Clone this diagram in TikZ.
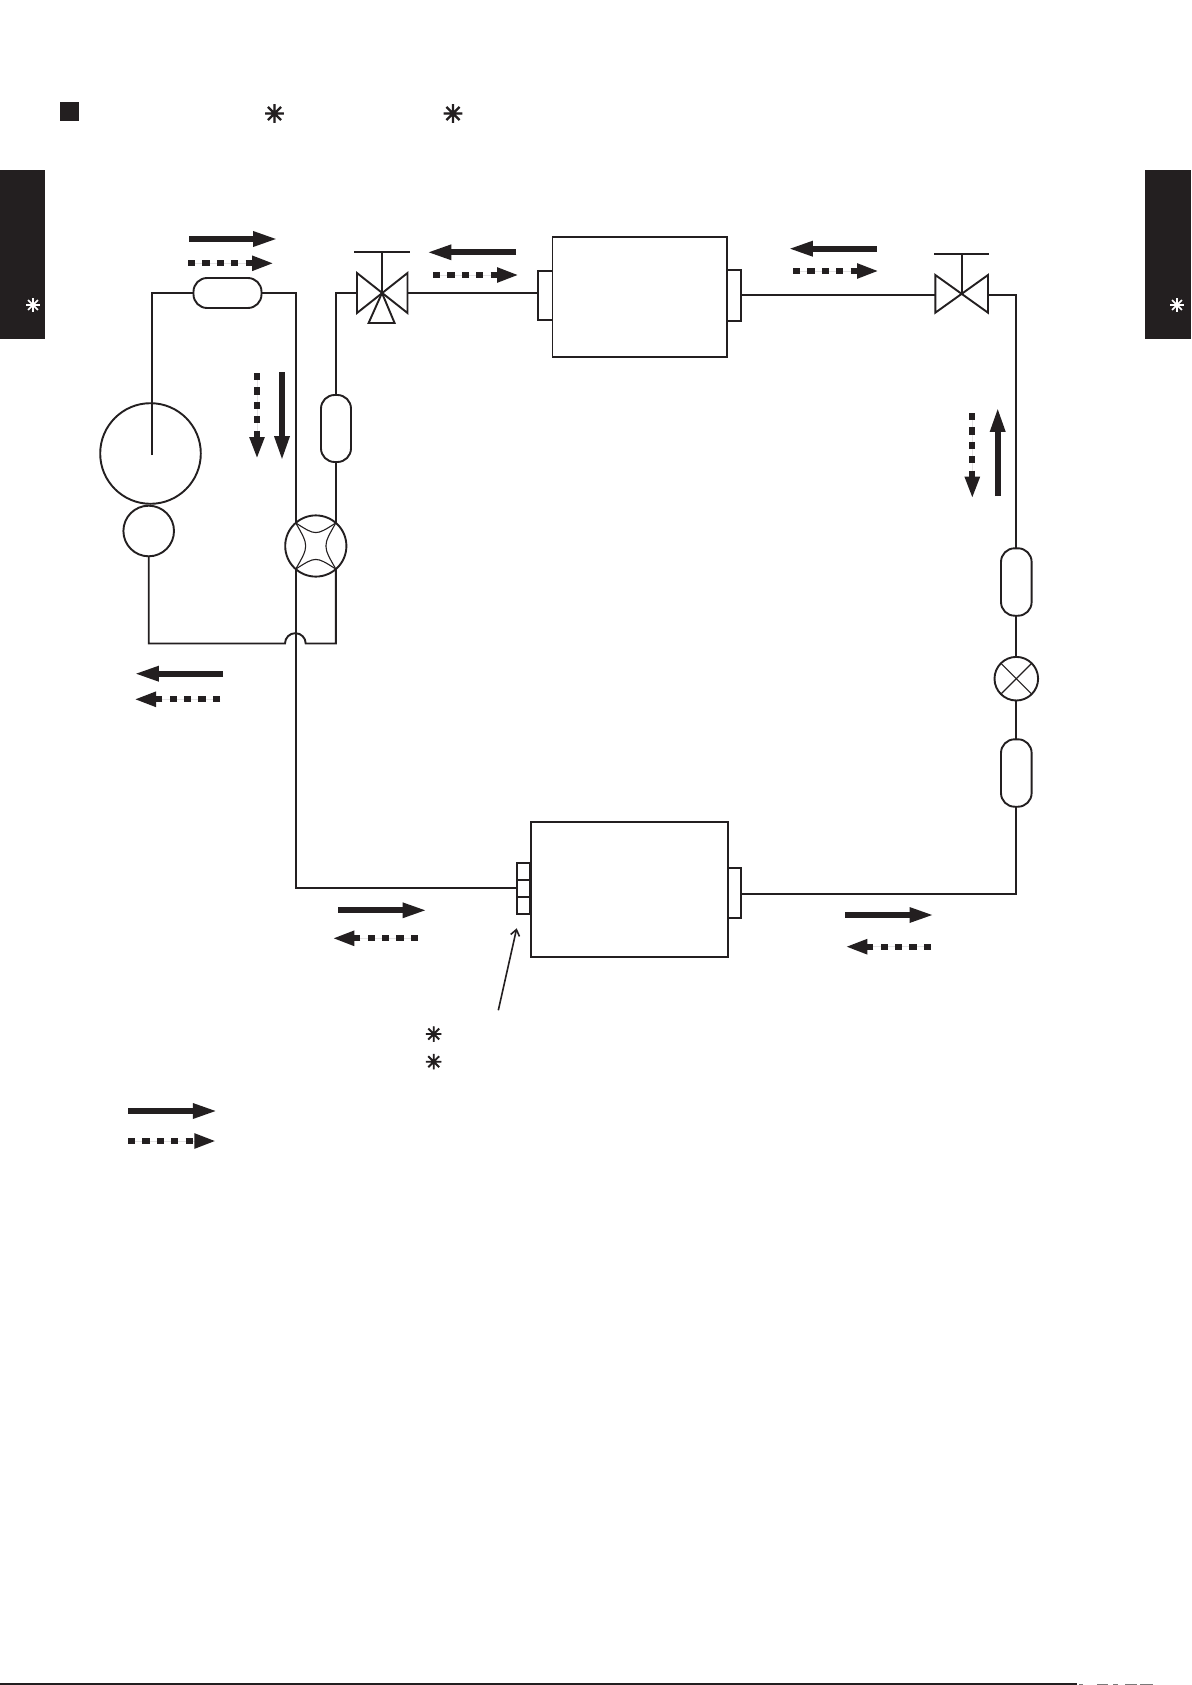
\documentclass[tikz,border=0pt]{standalone}
\usepackage{fontspec}
\newfontfamily\symfont[FakeBold=4.5]{DejaVu Sans}
\usetikzlibrary{arrows.meta}
\definecolor{ink}{HTML}{231F20}
\newcommand{\solidflow}[3]{\coordinate (#1a) at (#2); \coordinate (#1b) at (#3); \draw[solidflowline] (#1a) -- (#1b);}
\newcommand{\dashflow}[3]{\coordinate (#1a) at (#2); \coordinate (#1b) at (#3); \draw[dashflowline] (#1a) -- (#1b);}
\tikzset{
  pipe/.style={draw=ink,line width=0.95pt,line join=miter},
  thin pipe/.style={draw=ink,line width=0.55pt},
  unitbox/.style={draw=ink,line width=0.95pt,rectangle,inner sep=0pt,outer sep=0pt,fill=white},
  capsule/.style={draw=ink,line width=0.95pt,rectangle,rounded corners=6.8pt,inner sep=0pt,outer sep=0pt,fill=white},
  disc/.style={draw=ink,line width=0.95pt,circle,inner sep=0pt,outer sep=0pt},
  solidflowline/.style={draw=ink,fill=ink,line width=3pt,shorten >=-1pt,-{Triangle[length=12.4pt,width=6.9pt]}},
  dashflowline/.style={draw=ink,fill=ink,line width=2.9pt,shorten >=-1pt,dash pattern=on 3.6pt off 3.6pt,-{Triangle[length=11pt,width=6.9pt]}},
  star/.style={text=ink,font=\symfont\fontsize{#1}{#1}\selectfont,inner sep=0pt,outer sep=0pt},
  whitestar/.style={text=white,font=\symfont\fontsize{#1}{#1}\selectfont,inner sep=0pt,outer sep=0pt},
}
\begin{document}
\begin{tikzpicture}[x=0.5pt,y=-0.5pt]
\useasboundingbox (0,0) rectangle (1192,1685);
\fill[white] (0,0) rectangle (1192,1685);

% header and side tabs
\node[fill=ink,inner sep=0pt,outer sep=0pt,minimum width=9.5pt,minimum height=9.5pt] (bullet) at (69.5,111.5) {};
\node[star=12] (s1) at (274.5,113.5) {✳};
\node[star=12] (s2) at (453,113.5) {✳};
\node[fill=ink,inner sep=0pt,outer sep=0pt,minimum width=22.5pt,minimum height=84.5pt] (tabL) at (22.5,254.5) {};
\node[fill=ink,inner sep=0pt,outer sep=0pt,minimum width=23pt,minimum height=84.5pt] (tabR) at (1168,254.5) {};
\node[whitestar=9] (s3) at (33,305) {✳};
\node[whitestar=9] (s4) at (1177,305) {✳};

% junction coordinates
\coordinate (compin) at (152,455);
\coordinate (jumpL) at (285,643.5);
\coordinate (v1L) at (357,293);
\coordinate (v1R) at (407.5,293);
\coordinate (v1C) at (382,293);
\coordinate (v1top) at (382,252);
\coordinate (v1barL) at (354,252);
\coordinate (v1barR) at (410,252);
\coordinate (v2L) at (935.3,294.7);
\coordinate (v2R) at (988,294.7);
\coordinate (v2C) at (961.7,294.7);
\coordinate (v2top) at (961.7,253.7);
\coordinate (v2barL) at (934.3,253.7);
\coordinate (v2barR) at (988.7,253.7);
\coordinate (lowRpipe) at (740.7,894.3);

% components
\node[disc,minimum size=50.3pt] (comp) at (150.5,453.5) {};
\node[disc,minimum size=25.3pt] (motor) at (148.7,531) {};
\node[disc,minimum size=30.6pt] (fw) at (315.8,546) {};
\node[disc,minimum size=21.8pt] (xv) at (1016.3,678.7) {};
\node[capsule,minimum width=34pt,minimum height=15pt] (capA) at (227.5,293) {};
\node[capsule,minimum width=15pt,minimum height=33.5pt] (capB) at (336,428.5) {};
\node[capsule,minimum width=15.3pt,minimum height=33.7pt] (capC) at (1016.3,582) {};
\node[capsule,minimum width=15.3pt,minimum height=33.7pt] (capD) at (1016.3,773) {};
\node[unitbox,minimum width=7.25pt,minimum height=24.7pt] (topL) at (545.2,295.3) {};
\node[unitbox,minimum width=7pt,minimum height=25.2pt] (topR) at (733.7,295.5) {};
\node[unitbox,minimum width=87.1pt,minimum height=59.7pt] (top) at (639.6,297) {};
\node[unitbox,minimum width=6.35pt,minimum height=25pt] (lowR) at (734.35,892.7) {};
\node[unitbox,minimum width=6.65pt,minimum height=8.35pt] (lowA) at (523.65,871.65) {};
\node[unitbox,minimum width=6.65pt,minimum height=8.35pt] (lowB) at (523.65,888.35) {};
\node[unitbox,minimum width=6.65pt,minimum height=8.65pt] (lowC) at (523.65,905.35) {};
\node[unitbox,minimum width=98.6pt,minimum height=67.5pt] (low) at (629.3,889.2) {};

% pipes
\draw[pipe] (compin) |- (capA.west);
\draw[pipe] (capA.east) -| (fw.131);
\draw[pipe] (v1L) -| (capB.north);
\draw[pipe] (capB.south) -- (fw.49 |- capB.south) -- (fw.49);
\draw[pipe] (motor.south) |- (jumpL) arc[start angle=180,end angle=0,radius=5.175pt] -| (fw.311);
\draw[pipe] (fw.229) |- (lowB.west);
\draw[pipe] (v1R) -- (topL.west |- v1R) ;
\draw[pipe] (topR.east |- v2R) -- (v2L);
\draw[pipe] (v2R) -| (capC.north);
\draw[pipe] (capC.south) -- (xv.north);
\draw[pipe] (xv.south) -- (capD.north);
\draw[pipe] (capD.south) |- (lowRpipe);

% four-way valve inner curves
\draw[thin pipe] (fw.131) .. controls (315.8,535.8) .. (fw.49);
\draw[thin pipe] (fw.229) .. controls (315.8,556.2) .. (fw.311);
\draw[thin pipe] (fw.131) .. controls (309,546) .. (fw.229);
\draw[thin pipe] (fw.49) .. controls (322.6,546) .. (fw.311);

% expansion valve cross
\draw[thin pipe] (xv.45) -- (xv.225);
\draw[thin pipe] (xv.135) -- (xv.315);

% three-way valve
\draw[pipe] (357,273) -- (407.5,313) -- (407.5,273) -- (357,313) -- cycle;
\draw[pipe] (v1C) -- (368.6,323) -- (394.6,323) -- cycle;
\draw[pipe] (v1C) -- (v1top);
\draw[pipe] (v1barL) -- (v1barR);

% two-way valve
\draw[pipe] (935.3,275) -- (988,312.7) -- (988,275) -- (935.3,312.7) -- cycle;
\draw[pipe] (v2C) -- (v2top);
\draw[pipe] (v2barL) -- (v2barR);

% leader
\coordinate (leadA) at (498.3,1010.3);
\coordinate (leadB) at (516.7,928.3);
\draw[draw=ink,line width=0.8pt,-{Straight Barb[length=3pt,width=4.5pt]}] (leadA) -- (leadB);
\node[star=10] (s5) at (433.7,1034) {✳};
\node[star=10] (s6) at (433.7,1061.7) {✳};

% flow arrows
\solidflow{f1}{189,239}{276,239}
\dashflow{f2}{188,263.3}{272,263.3}
\solidflow{f3}{516,252.3}{428.6,252.3}
\dashflow{f4}{433,275}{517,275}
\solidflow{f5}{876.7,248.7}{790,248.7}
\dashflow{f6}{793,271}{877,271}
\dashflow{f7}{257,373}{257,457}
\solidflow{f8}{282,372}{282,459}
\dashflow{f9}{972.3,413}{972.3,496.7}
\solidflow{f10}{997.7,496}{997.7,409}
\solidflow{f11}{223,673.7}{136,673.7}
\dashflow{f12}{220,699.3}{136,699.3}
\solidflow{f13}{338,910.3}{425.3,910.3}
\dashflow{f14}{418,938.3}{334.3,938.3}
\solidflow{f15}{845,915}{932.3,915}
\dashflow{f16}{931,946.7}{847.3,946.7}
\solidflow{f17}{128,1111}{215.7,1111}
\dashflow{f18}{128,1141}{214.3,1141}

% page foot rule
\fill[ink] (0,1683.4) rectangle (1077,1685);
\foreach \a/\b in {1079/1083,1097/1108,1113/1118,1125/1137,1140/1153}
  \fill[ink!60] (\a,1684) rectangle (\b,1685);
\end{tikzpicture}
\end{document}
